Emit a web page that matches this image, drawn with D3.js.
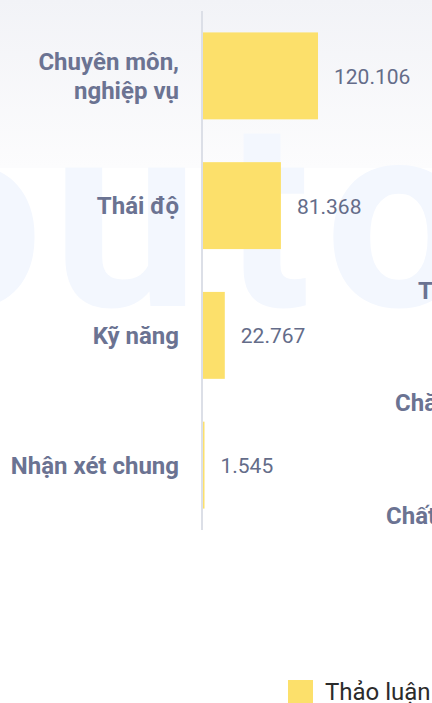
<!DOCTYPE html>
<html>
<head>
<meta charset="utf-8">
<script src="https://cdn.jsdelivr.net/npm/d3@7"></script>
<style>
  html, body { margin: 0; padding: 0; background: #fff; overflow: hidden; }
  svg { display: block; font-family: Roboto, "Noto Sans", sans-serif; }
</style>
</head>
<body>
<svg id="chart" width="432" height="703"></svg>
<script>
// Data
const categories = ['Chuyên môn, nghiệp vụ', 'Thái độ', 'Kỹ năng', 'Nhận xét chung'];
const values = [120.106, 81.368, 22.767, 1.545];
const valueLabels = ['120.106', '81.368', '22.767', '1.545'];
const seriesName = 'Thảo luận';
// labels of the neighbouring panel, cut off at the right edge
const sideLabels = ['Thái độ', 'Chăm sóc', 'Chất lượng'];

const width = 432;
const height = 703;
const barColor = '#fce06b';

const svg = d3.select('#chart');

// Background gradient at the top
const defs = svg.append('defs');
const grad = defs.append('linearGradient')
  .attr('id', 'bg')
  .attr('x1', 0).attr('y1', 0).attr('x2', 0).attr('y2', 1);
grad.append('stop').attr('offset', '0%').attr('stop-color', '#f2f3f7');
grad.append('stop').attr('offset', '100%').attr('stop-color', '#fcfcfd');

svg.append('rect')
  .attr('width', width).attr('height', 168)
  .attr('fill', 'url(#bg)');

// Watermark
const wm = svg.append('g')
  .attr('fill', '#f3f7fe')
  .style('font-family', 'Roboto, sans-serif')
  .style('font-weight', 700)
  .style('font-size', '262px');
[['o', -105], ['u', 52], ['t', 222], ['o', 325]].forEach(([ch, x]) => {
  wm.append('text').attr('x', x).attr('y', 306).text(ch);
});

// Scales
const y = d3.scaleBand()
  .domain(categories)
  .range([11, 530])
  .paddingInner(0.33)
  .paddingOuter(0.165);

const x = d3.scaleLinear()
  .domain([0, d3.max(values)])
  .range([203, 318]);

// Bars
svg.append('g')
  .selectAll('rect')
  .data(categories)
  .join('rect')
  .attr('x', x(0))
  .attr('y', (d) => y(d))
  .attr('width', (d, i) => Math.max(x(values[i]) - x(0), 1.5))
  .attr('height', y.bandwidth())
  .attr('fill', barColor);

// Axis line
svg.append('line')
  .attr('x1', 202).attr('x2', 202)
  .attr('y1', y.range()[0]).attr('y2', y.range()[1])
  .attr('stroke', '#dcdfe7')
  .attr('stroke-width', 2);

// Category labels
const labels = svg.append('g')
  .attr('text-anchor', 'end')
  .attr('fill', '#6b7392')
  .style('font-weight', 700)
  .style('font-size', '24px');

categories.forEach((c) => {
  const parts = c.includes(', ') ? [c.split(', ')[0] + ',', c.split(', ')[1]] : [c];
  const cy = y(c) + y.bandwidth() / 2;
  const t = labels.append('text').attr('x', 179);
  parts.forEach((p, k) => {
    t.append('tspan')
      .attr('x', 179)
      .attr('y', cy + 8.5 + (k - (parts.length - 1) / 2) * 29)
      .text(p);
  });
});

// Value labels
svg.append('g')
  .attr('fill', '#646c89')
  .style('font-size', '21px')
  .selectAll('text')
  .data(categories)
  .join('text')
  .attr('x', (d, i) => x(values[i]) + 16)
  .attr('y', (d) => y(d) + y.bandwidth() / 2 + 8)
  .text((d, i) => valueLabels[i]);

// Neighbouring panel labels (clipped)
const side = d3.scaleOrdinal().domain(sideLabels).range([[418, 299], [395, 411], [386, 524]]);
svg.append('g')
  .attr('fill', '#6b7392')
  .style('font-weight', 700)
  .style('font-size', '24px')
  .selectAll('text')
  .data(sideLabels)
  .join('text')
  .attr('x', (d) => side(d)[0])
  .attr('y', (d) => side(d)[1])
  .text((d) => d);

// Legend
const legend = svg.append('g').attr('transform', 'translate(288, 680)');
legend.append('rect')
  .attr('width', 25).attr('height', 23)
  .attr('fill', barColor);
legend.append('text')
  .attr('x', 37).attr('y', 20)
  .attr('fill', '#2b2b2b')
  .style('font-size', '24px')
  .text(seriesName);
</script>
</body>
</html>
